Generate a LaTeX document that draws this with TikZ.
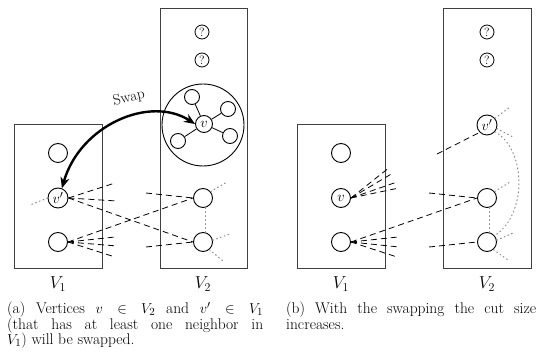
\documentclass[tikz,border=0pt]{standalone}
\usepackage{fontspec}
\usetikzlibrary{arrows.meta}
\begin{document}
\begin{tikzpicture}[x=1pt,y=-1pt,
  vtx/.style={circle,draw,line width=0.9pt,minimum size=19pt,inner sep=0pt,font=\fontsize{15}{15}\selectfont},
  sat/.style={circle,draw,line width=0.9pt,minimum size=15pt,inner sep=0pt},
  qn/.style={circle,draw,line width=0.8pt,minimum size=14pt,inner sep=0pt,font=\fontsize{12}{12}\selectfont},
  part/.style={draw=black!75,line width=1pt},
  cut/.style={line width=0.8pt,dash pattern=on 6pt off 4pt},
  nb/.style={line width=1pt,black!45,dash pattern=on 1pt off 3pt,line cap=round},
  lab/.style={font=\fontsize{17}{17}\selectfont},
  captxt/.style={anchor=north west,align=justify,inner sep=0pt,font=\fontsize{15.5}{15.5}\selectfont},
  swaparrow/.style={line width=2.4pt,{Stealth[length=11pt,width=9pt]}-{Stealth[length=11pt,width=9pt]}}
]
\useasboundingbox (0,0) rectangle (539,355);
% ---------------- (a) ----------------
\draw[part] (14,125) rectangle (102,269);
\draw[part] (160,9) rectangle (247,269);
\node[lab] (la1) at (58,284) {$V_1$};
\node[lab] (la2) at (203,284) {$V_2$};
\node[qn] (qa1) at (202,32) {?};
\node[qn] (qa2) at (202,60) {?};
\node[circle,draw,line width=0.9pt,minimum size=82pt,inner sep=0pt] (grp) at (203,125) {};
\node[circle,draw,line width=0.9pt,minimum size=17pt,inner sep=0pt,font=\fontsize{15}{15}\selectfont] (v) at (204,124) {$v$};
\node[sat] (s1) at (192,97) {};
\node[sat] (s2) at (228,109) {};
\node[sat] (s3) at (178,141) {};
\node[sat] (s4) at (230,136) {};
\foreach \s in {s1,s2,s3,s4} \draw[line width=0.8pt] (v) -- (\s);
\node[vtx] (a1t) at (58,153) {};
\node[vtx,minimum size=20pt] (vp) at (58,198) {$v'$};
\node[vtx] (a1b) at (58,242) {};
\node[vtx] (a2m) at (203,198) {};
\node[vtx] (a2l) at (203,242) {};
% free ends
\coordinate (e1) at (115,183);
\coordinate (e2) at (117,201);
\coordinate (e3) at (115,237);
\coordinate (e4) at (117,246);
\coordinate (e5) at (115,257);
\coordinate (e6) at (146,193);
\coordinate (e7) at (146,247);
\coordinate (d1) at (30,205);
\coordinate (d2) at (227,182);
\coordinate (d3) at (230,234);
\coordinate (d4) at (223,261);
\draw[cut] (vp.east) -- (e1);
\draw[cut] (vp.east) -- (e2);
\draw[cut] (vp.east) -- (a2l.west);
\draw[cut] (a1b.east) -- (e3);
\draw[cut] (a1b.east) -- (e4);
\draw[cut] (a1b.east) -- (e5);
\draw[cut] (a1b.east) -- (a2m.west);
\draw[cut] (e6) -- (a2m.west);
\draw[cut] (e7) -- (a2l.west);
\draw[nb] (vp.west) -- (d1);
\draw[nb] (a2m.40) -- (d2);
\draw[nb] (a2m.-75) -- (a2l.75);
\draw[nb] (a2l.10) -- (d3);
\draw[nb] (a2l.-50) -- (d4);
\draw[swaparrow] (vp.68) .. controls (80,125) and (150,95) .. (v.west);
\node[font=\fontsize{15}{15}\selectfont,rotate=12,inner sep=1pt] (sw) at (129,98) {Swap};
% ---------------- (b) ----------------
\draw[part] (297,125) rectangle (385,269);
\draw[part] (443,9) rectangle (531,269);
\node[lab] (lb1) at (341,284) {$V_1$};
\node[lab] (lb2) at (487,284) {$V_2$};
\node[qn] (qb1) at (487,32) {?};
\node[qn] (qb2) at (487,60) {?};
\node[vtx,minimum size=20pt] (vp2) at (487,125) {$v'$};
\node[vtx] (b2m) at (487,198) {};
\node[vtx] (b2l) at (487,242) {};
\node[vtx] (b1t) at (341,153) {};
\node[vtx] (vb) at (341,198) {$v$};
\node[vtx] (b1b) at (341,242) {};
\coordinate (f1) at (390,167);
\coordinate (f2) at (393,173);
\coordinate (f3) at (397,182);
\coordinate (f4) at (399,188);
\coordinate (f5) at (398,237);
\coordinate (f6) at (399,247);
\coordinate (f7) at (397,257);
\coordinate (f8) at (429,193);
\coordinate (f9) at (429,247);
\coordinate (f10) at (437,154);
\coordinate (g1) at (510,107);
\coordinate (g2) at (513,137);
\coordinate (g3) at (510,182);
\coordinate (g4) at (513,233);
\coordinate (g5) at (508,260);
\foreach \f in {f1,f2,f3,f4} \draw[cut] (vb.east) -- (\f);
\foreach \f in {f5,f6,f7} \draw[cut] (b1b.east) -- (\f);
\draw[cut] (b1b.east) -- (b2m.west);
\draw[cut] (f8) -- (b2m.west);
\draw[cut] (f9) -- (b2l.west);
\draw[cut] (f10) -- (vp2.south west);
\draw[nb] (vp2.40) -- (g1);
\draw[nb] (vp2.-20) -- (g2);
\draw[nb] (vp2.-40) .. controls (527,150) and (527,215) .. (b2l.40);
\draw[nb] (b2m.40) -- (g3);
\draw[nb] (b2m.-75) -- (b2l.75);
\draw[nb] (b2l.10) -- (g4);
\draw[nb] (b2l.-50) -- (g5);
% ---------------- captions ----------------
\node[captxt,text width=256pt] (capa) at (7,302) {(a) Vertices $v \in V_2$ and $v' \in V_1$\linebreak (that has at least one neighbor in\linebreak $V_1$) will be swapped.};
\node[captxt,text width=250pt] (capb) at (286,302) {(b) With the swapping the cut size\linebreak increases.};
\end{tikzpicture}
\end{document}
